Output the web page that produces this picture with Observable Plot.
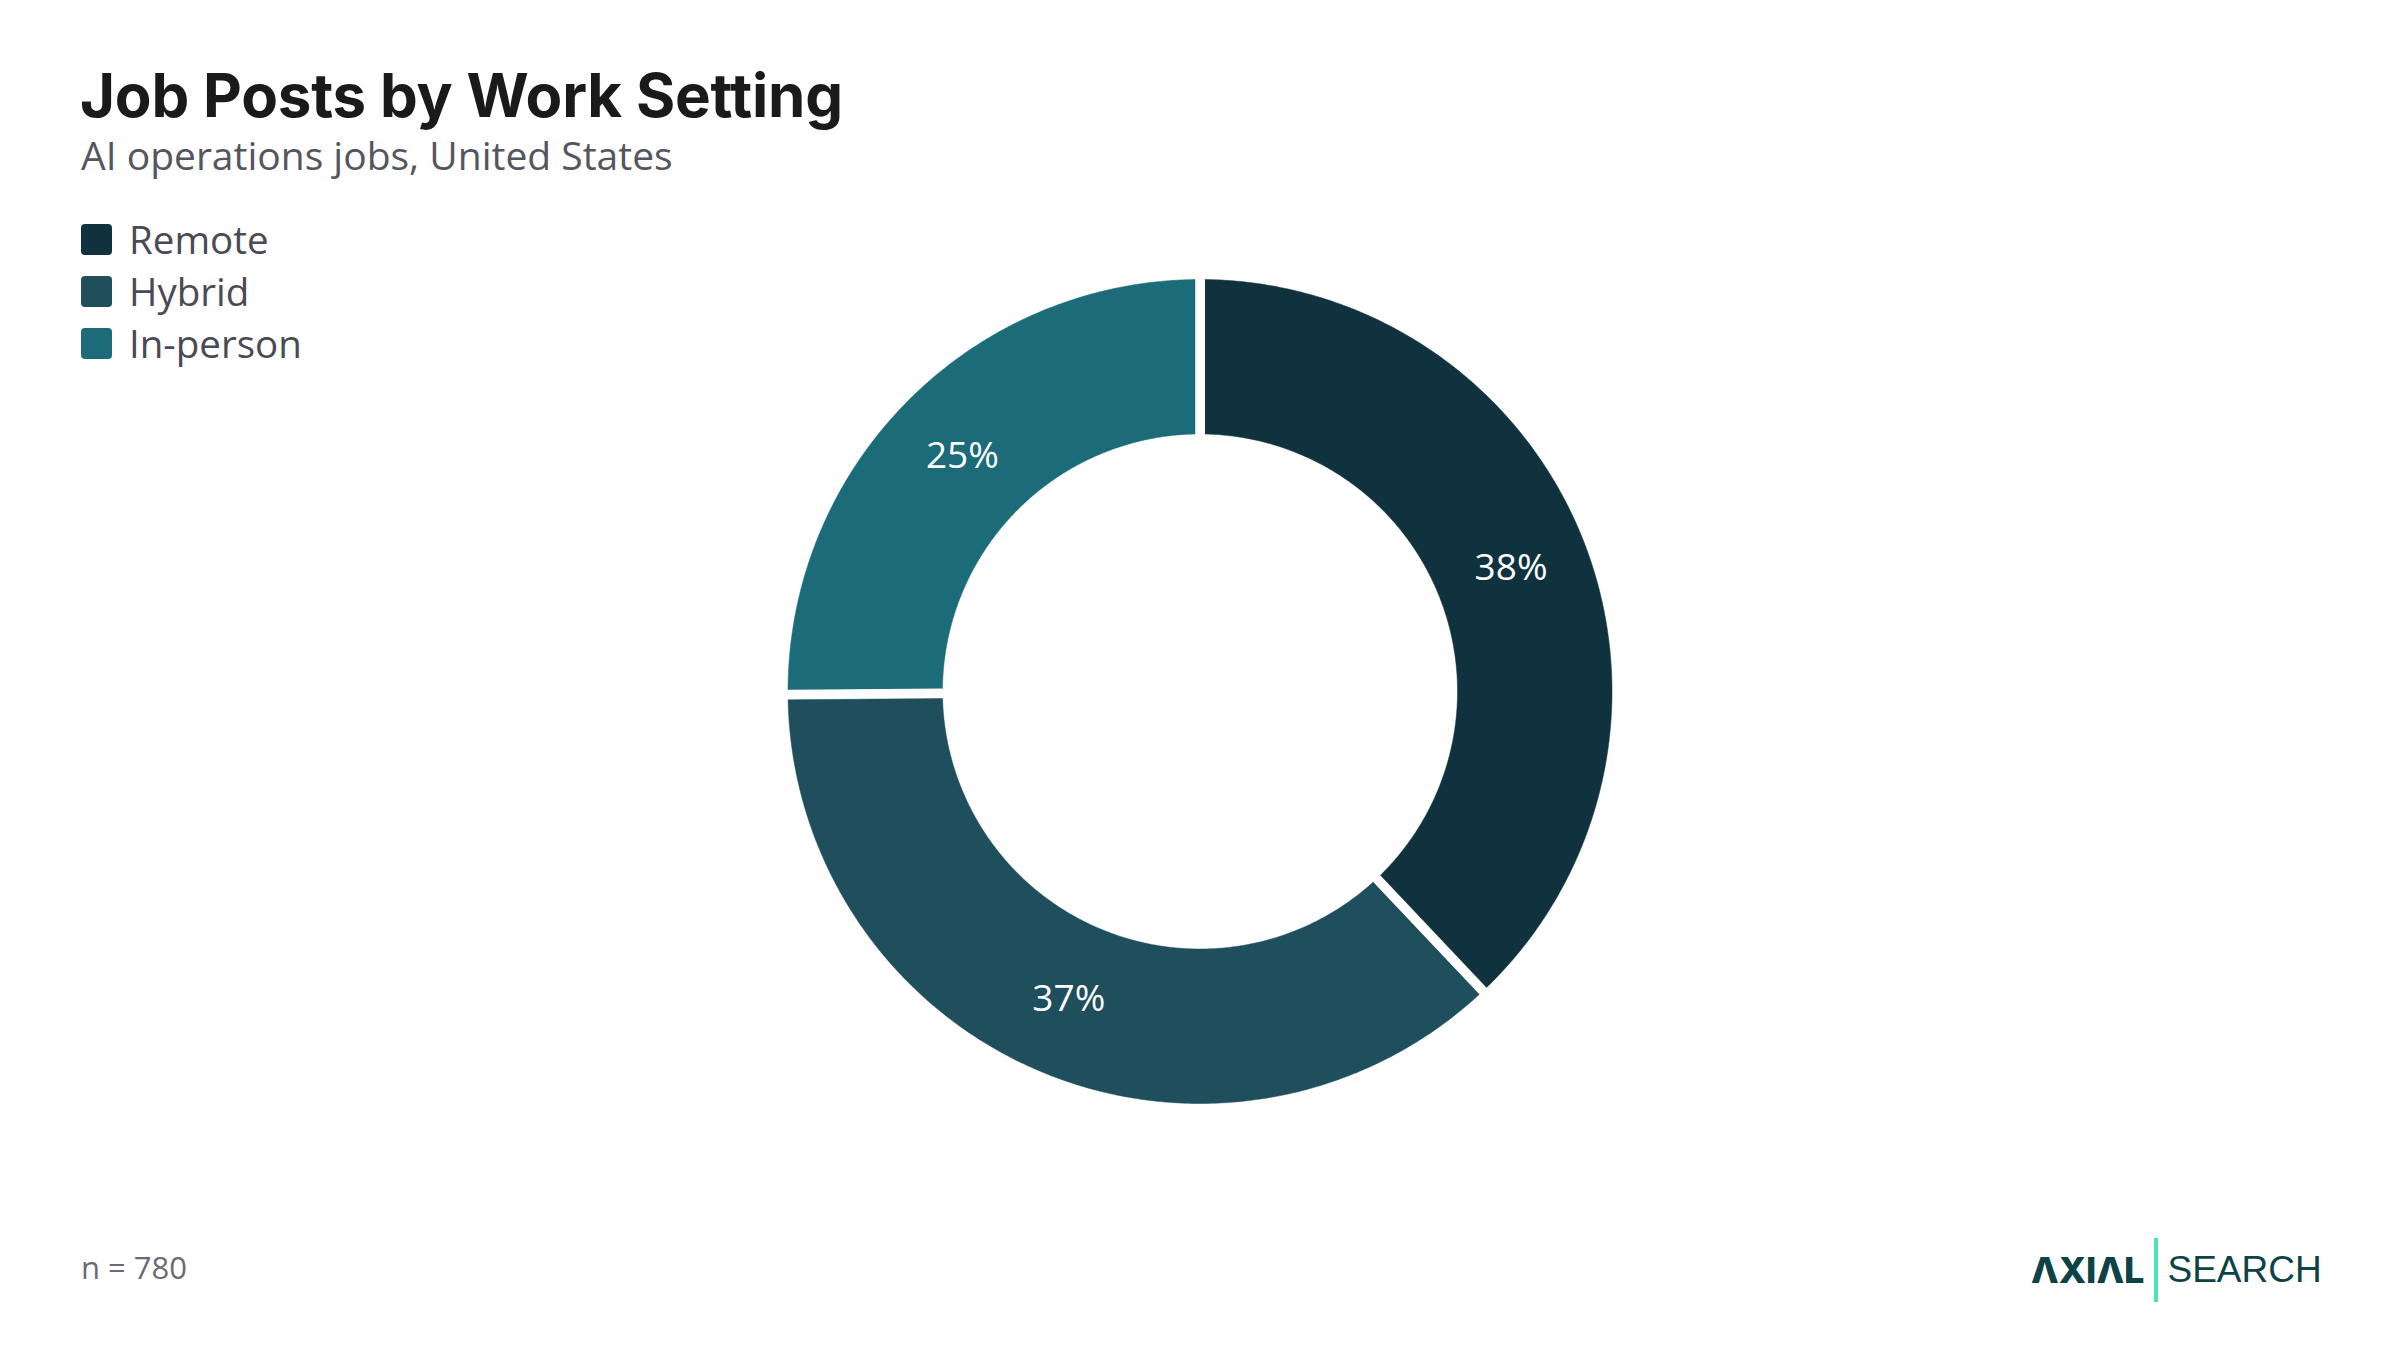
<!DOCTYPE html>
<html>
<head>
<meta charset="utf-8">
<script src="https://cdn.jsdelivr.net/npm/d3@7"></script>
<script src="https://cdn.jsdelivr.net/npm/@observablehq/plot@0.6"></script>
<style>
  html, body { margin: 0; padding: 0; background: #ffffff; }
  #page { position: relative; width: 2400px; height: 1350px; overflow: hidden; background: #fff; font-family: "Open Sans", Roboto, sans-serif; }
  #chart { position: absolute; left: 0; top: 0; }
  #title { position: absolute; left: 80px; top: 65px; font-family: Inter, "Noto Sans", sans-serif; font-weight: 700; font-size: 60px; letter-spacing: -0.2px; color: #1a1a1a; line-height: 1; }
  #subtitle { position: absolute; left: 81px; top: 134px; font-size: 39px; color: #55555f; line-height: 1.1; }
  #legend { position: absolute; left: 81px; top: 213px; }
  .row { display: flex; align-items: center; height: 52px; font-size: 38.5px; color: #4a4a55; }
  .sw { width: 31px; height: 31px; border-radius: 4px; margin-right: 17px; }
  #note { position: absolute; left: 81px; top: 1250px; font-size: 31px; color: #6b6b75; line-height: 1.1; }
  #logo { position: absolute; left: 2031px; top: 1238px; height: 64px; display: flex; align-items: center; color: #0d4346; }
  #logo .ax { font-family: Inter, "Liberation Sans", sans-serif; font-weight: 800; font-size: 36px; letter-spacing: 0px; }
  #logo .bar { width: 4px; height: 64px; background: #4ee3b4; margin: 0 9px 0 10px; }
  #logo .se { font-family: "Liberation Sans", Arial, sans-serif; font-size: 37px; font-weight: 400; }
</style>
</head>
<body>
<div id="page">
  <div id="chart"></div>
  <div id="title">Job Posts by Work Setting</div>
  <div id="subtitle">AI operations jobs, United States</div>
  <div id="legend"></div>
  <div id="note">n = 780</div>
  <div id="logo"><span class="ax">ΛXIΛL</span><span class="bar"></span><span class="se">SEARCH</span></div>
</div>
<script>
// Data
const categories = ["Remote", "Hybrid", "In-person"];
const counts = [296, 288, 196];
const total = 780;
const colors = ["#10323f", "#1f4e5c", "#1b6b78"];

// Legend
const legend = document.getElementById("legend");
categories.forEach((c, i) => {
  const row = document.createElement("div");
  row.className = "row";
  const sw = document.createElement("div");
  sw.className = "sw";
  sw.style.background = colors[i];
  const t = document.createElement("span");
  t.textContent = c;
  row.appendChild(sw);
  row.appendChild(t);
  legend.appendChild(row);
});

// Geometry (in data units: outer radius = 1)
const outerPx = 412;
const innerR = 257.5 / outerPx;
const h = 5 / outerPx; // half of the gap between slices

const arcs = d3.pie().sort(null).value(d => d)(counts);
const points = [];
const labels = [];
arcs.forEach((a, i) => {
  const key = categories[i];
  const N = 240;
  const o0 = a.startAngle + Math.asin(h / 1), o1 = a.endAngle - Math.asin(h / 1);
  const i0 = a.startAngle + Math.asin(h / innerR), i1 = a.endAngle - Math.asin(h / innerR);
  for (let k = 0; k <= N; k++) {
    const t = o0 + (o1 - o0) * k / N;
    points.push({key, x: Math.sin(t), y: Math.cos(t)});
  }
  for (let k = 0; k <= N; k++) {
    const t = i1 + (i0 - i1) * k / N;
    points.push({key, x: innerR * Math.sin(t), y: innerR * Math.cos(t)});
  }
  const mid = (a.startAngle + a.endAngle) / 2;
  const rm = (1 + innerR) / 2;
  labels.push({key, x: rm * Math.sin(mid), y: rm * Math.cos(mid), text: Math.round(counts[i] / total * 100) + "%"});
});

const W = 2400, H = 1350;
const cx = 1199.5, cy = 691;
const plot = Plot.plot({
  width: W,
  height: H,
  marginLeft: cx - outerPx,
  marginRight: W - (cx + outerPx),
  marginTop: cy - outerPx,
  marginBottom: H - (cy + outerPx),
  x: {domain: [-1, 1], axis: null},
  y: {domain: [-1, 1], axis: null},
  color: {domain: categories, range: colors},
  style: {background: "transparent", fontFamily: "'Open Sans', Roboto, sans-serif"},
  marks: [
    Plot.line(points, {x: "x", y: "y", z: "key", fill: "key", stroke: "key", strokeWidth: 0.5}),
    Plot.text(labels, {x: "x", y: "y", text: "text", fill: "white", fontSize: 37})
  ]
});
document.getElementById("chart").appendChild(plot);
</script>
</body>
</html>
